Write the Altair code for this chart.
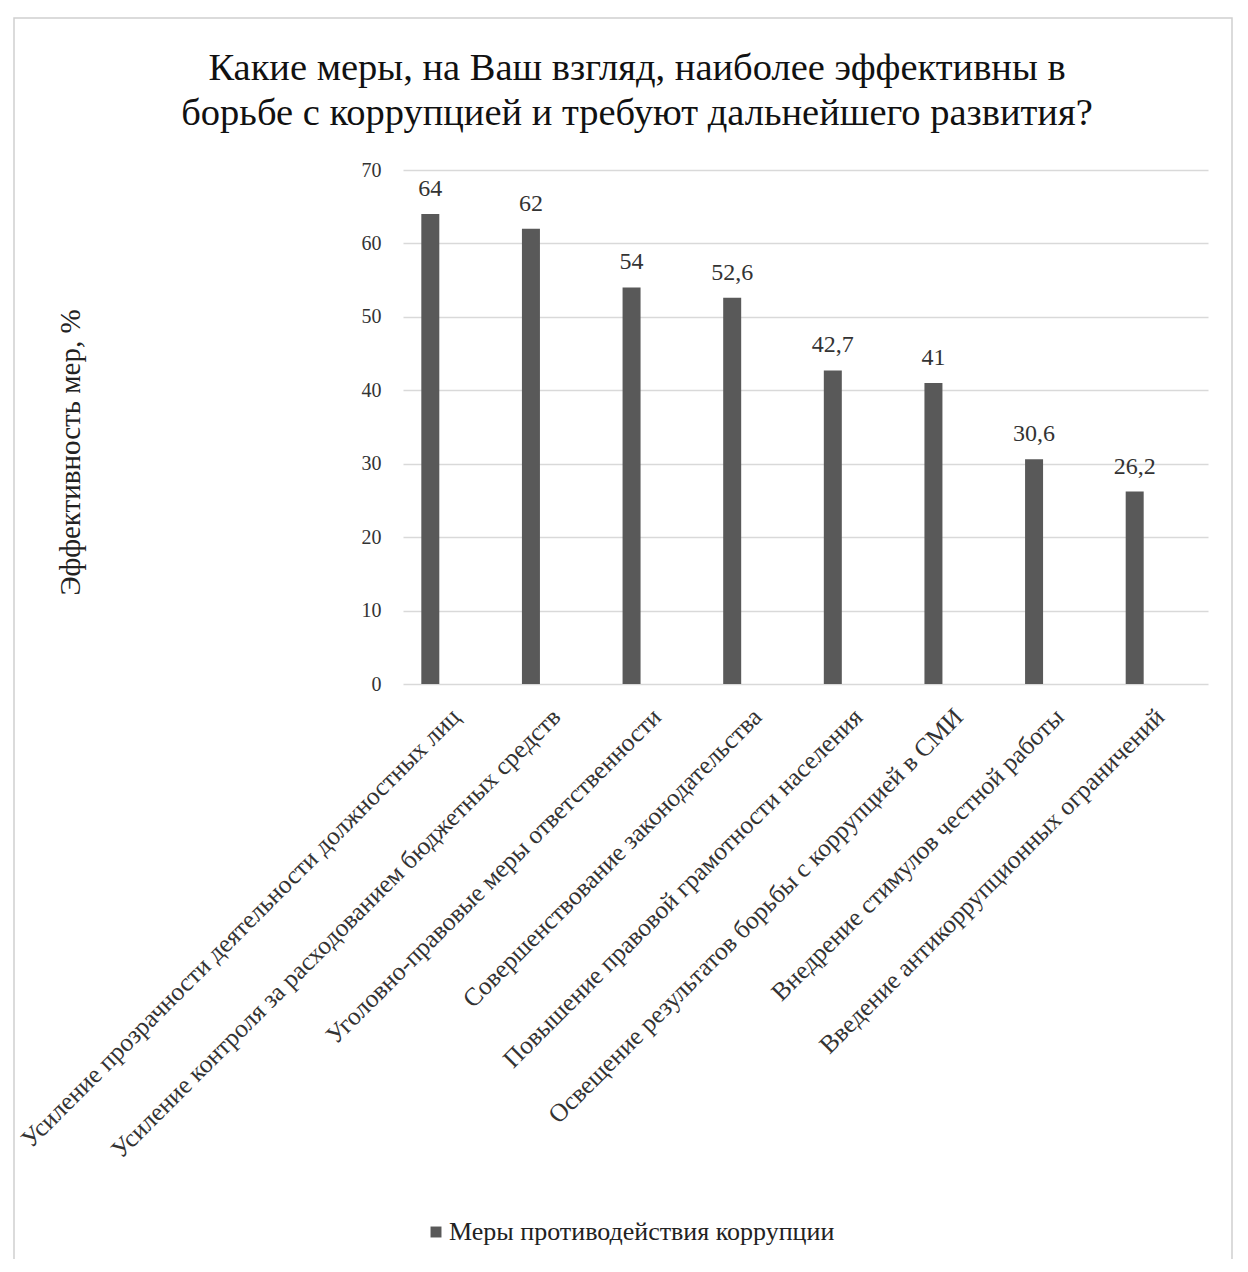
import altair as alt
import pandas as pd

categories = [
    "Усиление прозрачности деятельности должностных лиц",
    "Усиление контроля за расходованием бюджетных средств",
    "Уголовно-правовые меры ответственности",
    "Совершенствование законодательства",
    "Повышение правовой грамотности населения",
    "Освещение результатов борьбы с коррупцией в СМИ",
    "Внедрение стимулов честной работы",
    "Введение антикоррупционных ограничений",
]
values = [64, 62, 54, 52.6, 42.7, 41, 30.6, 26.2]
series_name = "Меры противодействия коррупции"
y_ticks = [0, 10, 20, 30, 40, 50, 60, 70]
title_lines = [
    "Какие меры, на Ваш взгляд, наиболее эффективны в",
    "борьбе с коррупцией и требуют дальнейшего развития?",
]

df = pd.DataFrame({
    "cat": categories,
    "val": values,
    "label": [("%g" % v).replace(".", ",") for v in values],
    "series": [series_name] * len(values),
})
title_df = pd.DataFrame({"t": ["\n".join(title_lines)]})

FONT = "Liberation Serif"
W, H = 805, 514
BAR = "#595959"
SHIFT = -23

x_enc = alt.X(
    "cat:N",
    sort=categories,
    scale=alt.Scale(paddingInner=0, paddingOuter=0),
    axis=alt.Axis(
        title=None, domain=False, ticks=False, grid=False,
        labelAngle=-45, labelAlign="right", labelBaseline="top",
        labelOffset=-6, labelPadding=20, labelFont=FONT, labelFontSize=25.4,
        labelColor="#333333", labelLimit=2000,
    ),
)

bars = alt.Chart(df).mark_bar(size=18, xOffset=SHIFT).encode(
    x=x_enc,
    y=alt.Y(
        "val:Q",
        scale=alt.Scale(domain=[0, 70], nice=False),
        axis=alt.Axis(
            values=y_ticks, title="Эффективность мер, %", titleFont=FONT,
            titleFontSize=29, titleFontWeight="normal", titleColor="#222222",
            titleX=-333, titleY=282, titleAngle=-90, titleAlign="center",
            titleBaseline="middle",
            domain=False, ticks=False, gridColor="#d9d9d9", gridWidth=1.5,
            labelFont=FONT, labelFontSize=20, labelColor="#333333", labelPadding=22,
        ),
    ),
    color=alt.Color(
        "series:N",
        scale=alt.Scale(domain=[series_name], range=[BAR]),
        legend=alt.Legend(
            title=None, orient="none", legendX=20, legendY=1049,
            symbolType="square", symbolSize=120, symbolStrokeWidth=0,
            labelOffset=0,
            labelFont=FONT, labelFontSize=26, labelColor="#222222", labelLimit=2000,
        ),
    ),
)

text = alt.Chart(df).mark_text(
    baseline="bottom", dy=-13, dx=SHIFT, font=FONT, fontSize=24, color="#333333"
).encode(
    x=alt.X("cat:N", sort=categories),
    y="val:Q",
    text="label:N",
)

title = alt.Chart(title_df).mark_text(
    font=FONT, fontSize=38.5, color="#111111", lineBreak="\n", lineHeight=45,
    align="center", baseline="middle",
).encode(x=alt.value(234), y=alt.value(-102), text="t:N")

frame = alt.Chart(title_df).mark_rect(
    fill=None, stroke="#d0d0d0", strokeWidth=1.5
).encode(
    x=alt.value(-389), x2=alt.value(829), y=alt.value(-152), y2=alt.value(1120)
)

chart = alt.layer(frame, title, bars, text).properties(
    width=W,
    height=H,
    background="white",
    autosize=alt.AutoSizeParams(type="none"),
    padding={"left": 395, "top": 162, "right": 32, "bottom": 575},
).configure_view(strokeWidth=0, stroke=None)

chart.save("out.html", embed_options={"renderer": "svg", "actions": False})
